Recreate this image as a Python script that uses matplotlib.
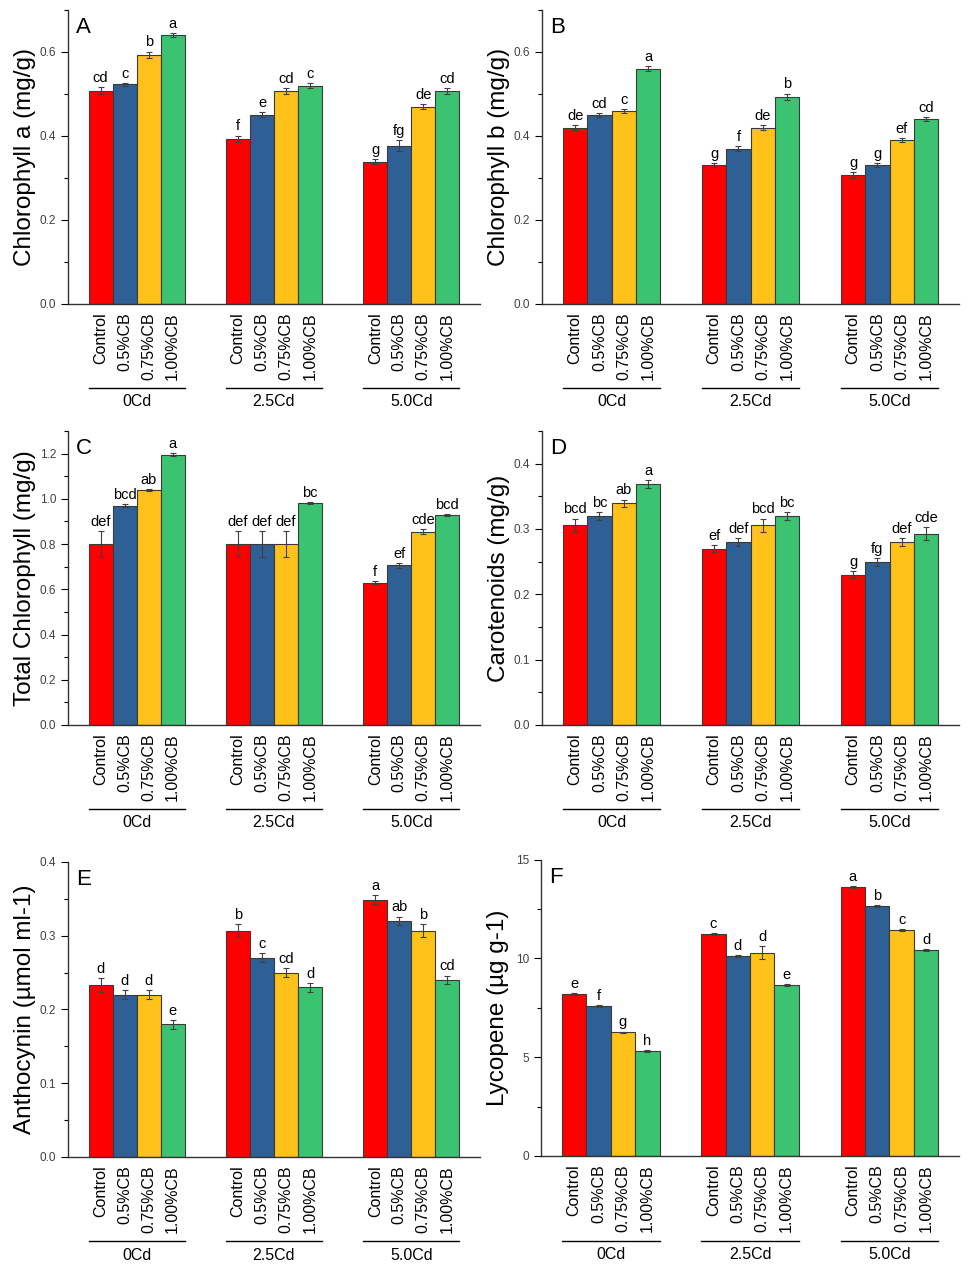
import numpy as np
import matplotlib.pyplot as plt
from matplotlib.ticker import MultipleLocator

plt.rcParams['font.family'] = ['Liberation Sans', 'DejaVu Sans']

groups = ["0Cd", "2.5Cd", "5.0Cd"]
treatments = ["Control", "0.5%CB", "0.75%CB", "1.00%CB"]
colors = ["#FF0000", "#2F6095", "#FFC21A", "#3CC371"]

# rows = Cd groups, columns = treatments
chl_a = [[0.508, 0.523, 0.593, 0.641], [0.393, 0.450, 0.507, 0.519], [0.339, 0.377, 0.470, 0.507]]
chl_a_err = [[0.008, 0.003, 0.008, 0.005], [0.008, 0.006, 0.008, 0.006], [0.006, 0.013, 0.005, 0.008]]
chl_a_sig = [["cd", "c", "b", "a"], ["f", "e", "cd", "c"], ["g", "fg", "de", "cd"]]

chl_b = [[0.420, 0.450, 0.460, 0.560], [0.330, 0.370, 0.420, 0.493], [0.307, 0.330, 0.390, 0.440]]
chl_b_err = [[0.005, 0.005, 0.005, 0.006], [0.005, 0.006, 0.005, 0.008], [0.008, 0.005, 0.005, 0.005]]
chl_b_sig = [["de", "cd", "c", "a"], ["g", "f", "de", "b"], ["g", "g", "ef", "cd"]]

total_chl = [[0.80, 0.97, 1.04, 1.196], [0.80, 0.80, 0.80, 0.98], [0.629, 0.706, 0.855, 0.928]]
total_chl_err = [[0.056, 0.005, 0.005, 0.008], [0.056, 0.056, 0.056, 0.005], [0.007, 0.012, 0.012, 0.005]]
total_chl_sig = [["def", "bcd", "ab", "a"], ["def", "def", "def", "bc"], ["f", "ef", "cde", "bcd"]]

carot = [[0.306, 0.320, 0.339, 0.369], [0.270, 0.280, 0.306, 0.320], [0.230, 0.250, 0.280, 0.293]]
carot_err = [[0.010, 0.006, 0.006, 0.006], [0.006, 0.006, 0.010, 0.006], [0.005, 0.006, 0.006, 0.010]]
carot_sig = [["bcd", "bc", "ab", "a"], ["ef", "def", "bcd", "bc"], ["g", "fg", "def", "cde"]]

antho = [[0.233, 0.220, 0.220, 0.180], [0.307, 0.270, 0.250, 0.230], [0.349, 0.320, 0.307, 0.240]]
antho_err = [[0.009, 0.006, 0.006, 0.006], [0.009, 0.006, 0.006, 0.006], [0.006, 0.006, 0.009, 0.006]]
antho_sig = [["d", "d", "d", "e"], ["b", "c", "cd", "d"], ["a", "ab", "b", "cd"]]

lyco = [[8.20, 7.61, 6.25, 5.29], [11.25, 10.10, 10.30, 8.65], [13.62, 12.64, 11.43, 10.44]]
lyco_err = [[0.05, 0.05, 0.05, 0.05], [0.05, 0.05, 0.35, 0.05], [0.05, 0.05, 0.05, 0.05]]
lyco_sig = [["e", "f", "g", "h"], ["c", "d", "d", "e"], ["a", "b", "c", "d"]]

panels = [
    ("A", "Chlorophyll a (mg/g)", chl_a, chl_a_err, chl_a_sig, 0.7, 0.2, 0.1, [0.0697, 0.762, 0.4226, 0.2302]),
    ("B", "Chlorophyll b (mg/g)", chl_b, chl_b_err, chl_b_sig, 0.7, 0.2, 0.1, [0.556, 0.762, 0.4277, 0.2302]),
    ("C", "Total Chlorophyll (mg/g)", total_chl, total_chl_err, total_chl_sig, 1.3, 0.2, 0.1, [0.0697, 0.4323, 0.4226, 0.2302]),
    ("D", "Carotenoids (mg/g)", carot, carot_err, carot_sig, 0.45, 0.1, 0.05, [0.556, 0.4323, 0.4277, 0.2302]),
    ("E", "Anthocynin (µmol ml-1)", antho, antho_err, antho_sig, 0.4, 0.1, 0.05, [0.0697, 0.094, 0.4226, 0.231]),
    ("F", "Lycopene (µg g-1)", lyco, lyco_err, lyco_sig, 15, 5, 2.5, [0.555, 0.0948, 0.4287, 0.232]),
]

width = 0.175
fig = plt.figure(figsize=(9.75, 12.77), dpi=100)

for letter, ylabel, vals, errs, sigs, ymax, major, minor, pos in panels:
    ax = fig.add_axes(pos)
    vals = np.array(vals)
    errs = np.array(errs)
    xticks, xlabels = [], []
    for g in range(len(groups)):
        for i in range(len(treatments)):
            x = g + (i - 1.5) * width
            ax.bar(x, vals[g, i], width, color=colors[i], edgecolor="#3a3a3a", linewidth=0.8, zorder=2)
            ax.errorbar(x, vals[g, i], yerr=errs[g, i], fmt="none", ecolor="#404040",
                        elinewidth=0.8, capsize=2.2, capthick=0.8, zorder=3)
            ax.annotate(sigs[g][i], (x, vals[g, i] + errs[g, i]), xytext=(0, 1.5),
                        textcoords="offset points", ha="center", va="bottom", fontsize=10.5)
            xticks.append(x)
            xlabels.append(treatments[i])
        # group bracket line and label
        trans = ax.get_xaxis_transform()
        ax.plot([g - 2 * width, g + 2 * width], [-0.286, -0.286], color="black", lw=1,
                transform=trans, clip_on=False)
        ax.text(g, -0.333, groups[g], transform=trans, ha="center", va="center", fontsize=11.5)

    ax.set_xlim(-0.5, 2.5)
    ax.set_ylim(0, ymax)
    ax.set_xticks(xticks)
    ax.set_xticklabels(xlabels, rotation=90, fontsize=11.5)
    ax.tick_params(axis="x", length=0, pad=6)
    ax.yaxis.set_major_locator(MultipleLocator(major))
    ax.yaxis.set_minor_locator(MultipleLocator(minor))
    ax.tick_params(axis="y", which="major", length=5, width=0.8, labelsize=8.5, labelcolor="#404040", direction="out")
    ax.tick_params(axis="y", which="minor", length=3, width=0.8, direction="out")
    for s in ["top", "right"]:
        ax.spines[s].set_visible(False)
    for s in ["left", "bottom"]:
        ax.spines[s].set_color("#333333")
        ax.spines[s].set_linewidth(1)

    ax.set_ylabel(ylabel, fontsize=17.5)
    ax.yaxis.set_label_coords(-0.077, 0.5)
    ax.text(0.02, 0.975, letter, transform=ax.transAxes, ha="left", va="top", fontsize=16)

fig.savefig("out.png", dpi=100)
